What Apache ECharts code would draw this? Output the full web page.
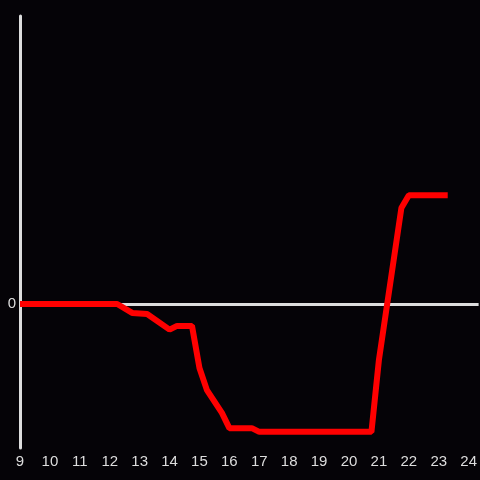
<!DOCTYPE html>
<html><head><meta charset="utf-8">
<script src="https://cdn.jsdelivr.net/npm/echarts@6/dist/echarts.min.js"></script>
<style>html,body{margin:0;padding:0;background:#050307;}#c{width:480px;height:480px;}</style>
</head><body><div id="c"></div>
<script>
const hours = [9, 12.25, 12.75, 13.25, 14, 14.25, 14.75, 15, 15.25, 15.75, 16, 16.75, 17, 20.75, 21, 21.75, 22, 23.3];
const values = [0, 0, -3.1, -3.5, -8.9, -7.6, -7.6, -22.2, -29.9, -37.8, -43.1, -43.1, -44.4, -44.4, -19.4, 33.3, 37.8, 37.8];
const xTicks = [9, 24];
const yRange = [-50, 100];
const zeroLevel = 0;

const chart = echarts.init(document.getElementById('c'), null, {renderer: 'canvas'});
chart.setOption({
  backgroundColor: '#050307',
  animation: false,
  grid: {left: 20, right: 0, top: 16, bottom: 32},
  xAxis: {
    type: 'value', min: xTicks[0], max: 24.333, interval: 1,
    axisLine: {show: false}, axisTick: {show: false}, splitLine: {show: false},
    axisLabel: {color: '#dddddd', fontSize: 15, margin: 6, showMaxLabel: false,
      formatter: v => Number.isInteger(v) ? String(v) : ''}
  },
  yAxis: {
    type: 'value', min: yRange[0], max: yRange[1], interval: 50,
    axisLine: {show: true, onZero: false, lineStyle: {color: '#dddddd', width: 3}},
    axisTick: {show: false}, splitLine: {show: false},
    axisLabel: {color: '#dddddd', fontSize: 15, margin: 4,
      formatter: v => v === 0 ? '0' : ''}
  },
  series: [{
    type: 'line',
    data: hours.map((h, i) => [h, values[i]]),
    showSymbol: false, symbol: 'none',
    lineStyle: {color: '#ff0000', width: 6},
    z: 5,
    markLine: {
      silent: true, symbol: 'none', z: 1,
      label: {show: false},
      lineStyle: {color: '#dddddd', width: 3, type: 'solid'},
      emphasis: {disabled: true},
      data: [{yAxis: zeroLevel}]
    }
  }]
});
</script></body></html>
